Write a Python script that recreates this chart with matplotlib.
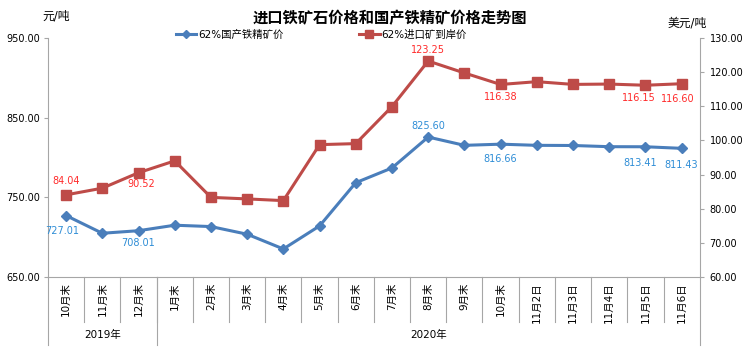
import matplotlib
matplotlib.use("Agg")
import numpy as np
from matplotlib import pyplot as plt
from matplotlib import transforms

plt.rcParams['font.family'] = ['DejaVu Sans', 'Noto Sans CJK SC']

# categories and groups
cats = ['10月末', '11月末', '12月末', '1月末', '2月末', '3月末', '4月末', '5月末',
        '6月末', '7月末', '8月末', '9月末', '10月末', '11月2日', '11月3日',
        '11月4日', '11月5日', '11月6日']
groups = ['2019年', '2020年']
group_sizes = [3, 15]

# series
domestic = [727.01, 704.8, 708.01, 714.9, 713.2, 703.6, 685.1, 714.0, 768.3,
            786.8, 825.60, 815.2, 816.66, 815.2, 815.0, 813.5, 813.41, 811.43]
imported = [84.04, 86.0, 90.52, 94.0, 83.3, 82.85, 82.35, 98.75, 99.05,
            109.9, 123.25, 119.75, 116.38, 117.2, 116.4, 116.5, 116.15, 116.60]

# which points get labels: index -> offset in points (dx, dy)
dom_labels = {0: (-3, -11), 2: (0, -9), 10: (0, 8), 12: (0, -11), 16: (-4, -12), 17: (0, -12)}
imp_labels = {0: (0, 10), 2: (2, -8), 10: (0, 8), 12: (0, -9), 16: (-5, -9), 17: (-3, -11)}

blue = '#4A7EBB'
red = '#BE4B48'
blue_txt = '#2E8DD6'
red_txt = '#FF2A2A'
axis_col = '#A6A6A6'

fig = plt.figure(figsize=(7.5, 3.55), dpi=100)
ax = fig.add_axes([0.064, 0.22, 0.869, 0.673])
ax2 = ax.twinx()

x = np.arange(len(cats))
l1, = ax.plot(x, domestic, color=blue, lw=2.2, marker='D', ms=5, label='62%国产铁精矿价',
              clip_on=False, zorder=3)
l2, = ax2.plot(x, imported, color=red, lw=2.2, marker='s', ms=6.5, label='62%进口矿到岸价',
               clip_on=False, zorder=3)

for i, (dx, dy) in dom_labels.items():
    ax.annotate('%.2f' % domestic[i], (x[i], domestic[i]), xytext=(dx, dy),
                textcoords='offset points', ha='center', va='center',
                fontsize=7, color=blue_txt)
for i, (dx, dy) in imp_labels.items():
    ax2.annotate('%.2f' % imported[i], (x[i], imported[i]), xytext=(dx, dy),
                 textcoords='offset points', ha='center', va='center',
                 fontsize=7, color=red_txt)

ax.set_xlim(-0.5, len(cats) - 0.5)
ax.set_ylim(650, 950)
ax.set_yticks([650, 750, 850, 950])
ax.set_yticklabels(['%.2f' % v for v in [650, 750, 850, 950]])
ax2.set_ylim(60, 130)
ax2.set_yticks(np.arange(60, 131, 10))
ax2.set_yticklabels(['%.2f' % v for v in np.arange(60, 131, 10)])

ax.set_xticks(x)
ax.set_xticklabels(cats, rotation=90, fontsize=7.5, va='top')
ax.tick_params(axis='x', length=0, pad=4)
ax.tick_params(axis='y', labelsize=7, length=3, color=axis_col, pad=3)
ax2.tick_params(axis='y', labelsize=7, length=3, color=axis_col, pad=4)

for a in (ax, ax2):
    a.spines['top'].set_visible(False)
    for s in ('left', 'right', 'bottom'):
        a.spines[s].set_color(axis_col)
ax.spines['right'].set_visible(False)
ax2.spines['left'].set_visible(False)
ax2.spines['bottom'].set_visible(False)

# category separators and group row
trans = transforms.blended_transform_factory(ax.transData, ax.transAxes)
for b in np.arange(0.5, len(cats) - 1, 1):
    ax.plot([b, b], [0, -0.188], transform=trans, color=axis_col, lw=0.8, clip_on=False)
edges = np.cumsum([0] + group_sizes) - 0.5
for e in edges:
    ax.plot([e, e], [0, -0.285], transform=trans, color=axis_col, lw=0.8, clip_on=False)
for g, a0, a1 in zip(groups, edges[:-1], edges[1:]):
    ax.text((a0 + a1) / 2, -0.245, g, transform=trans, ha='center', va='center', fontsize=7.5)

fig.text(0.52, 0.948, '进口铁矿石价格和国产铁精矿价格走势图', ha='center', va='center',
         fontsize=11, fontweight='bold', family=['Noto Sans CJK SC'])
fig.text(0.056, 0.955, '元/吨', ha='left', va='center', fontsize=8.5)
fig.text(0.943, 0.935, '美元/吨', ha='right', va='center', fontsize=8.5)

fig.legend(handles=[l1, l2], loc='center left', bbox_to_anchor=(0.234, 0.902), ncol=2,
           frameon=False, fontsize=7.5, columnspacing=7.2, handlelength=2.0,
           handletextpad=0.2, borderpad=0, borderaxespad=0, markerscale=0.8)

fig.savefig('out.png', dpi=100)
